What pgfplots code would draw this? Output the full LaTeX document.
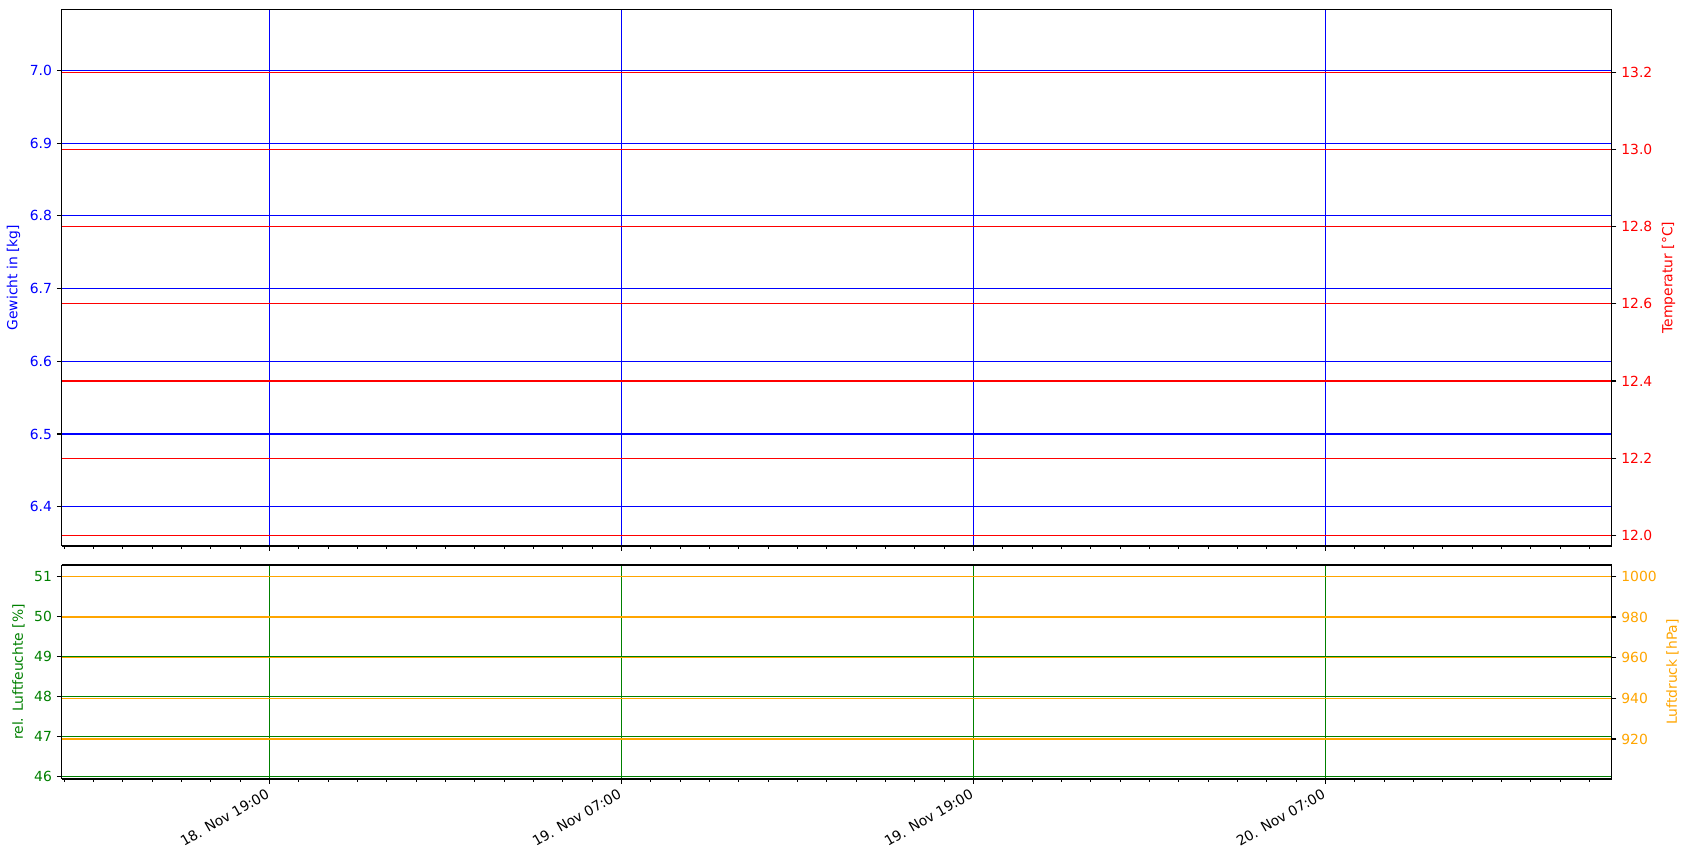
\documentclass[border=0pt]{standalone}
\usepackage{fontspec}
\setmainfont{DejaVu Sans}
\usepackage{pgfplots}
\pgfplotsset{compat=1.18}

% matplotlib default colours
\definecolor{mplgreen}{RGB}{0,128,0}
\definecolor{mplorange}{RGB}{255,165,0}

\pgfplotsset{
  base/.style={
    scale only axis,
    width=1116pt,
    xmin=-7.08, xmax=45.76,
    font=\fontsize{10}{12}\selectfont,
    /pgf/number format/assume math mode=true,
    /pgf/number format/set thousands separator={},
    tick align=outside,
    major tick length=3.5pt,
    minor tick length=2pt,
    every tick/.style={black},
    every major tick/.append style={line width=0.8pt},
    every minor tick/.append style={line width=0.6pt},
    axis line style={line width=0.8pt},
    major grid style={line width=0.8pt},
  },
  dec1/.style={yticklabel style={/pgf/number format/fixed, /pgf/number format/fixed zerofill, /pgf/number format/precision=1}},
}

\begin{document}
\begin{tikzpicture}
\path[use as bounding box] (0,0) rectangle (1213.2pt,619.2pt);

% ---------- upper panel: weight / temperature ----------
\begin{axis}[base, dec1,
  at={(44.4pt,226.1pt)}, anchor=south west,
  height=386.4pt,
  ymin=6.346, ymax=7.084,
  ytick={6.4,6.5,6.6,6.7,6.8,6.9,7.0},
  axis y line*=left,
  xtick={0,12,24,36}, xticklabels={},
  minor xtick={-7,...,45},
  xtick pos=bottom,
  grid=major, major grid style={blue},
  yticklabel style={text=blue},
  ylabel={Gewicht in [kg]}, ylabel style={text=blue},
]
\end{axis}
\begin{axis}[base, dec1,
  at={(44.4pt,226.1pt)}, anchor=south west,
  height=386.4pt,
  ymin=11.972, ymax=13.3645,
  ytick={12.0,12.2,12.4,12.6,12.8,13.0,13.2},
  axis y line*=right, axis x line=none,
  ymajorgrids, major grid style={red},
  yticklabel style={text=red},
  ylabel={Temperatur [°C]}, ylabel style={text=red},
]
\end{axis}

% ---------- lower panel: humidity / pressure ----------
\begin{axis}[base,
  at={(44.4pt,58.3pt)}, anchor=south west,
  height=154.1pt,
  ymin=45.94, ymax=51.28,
  ytick={46,47,48,49,50,51},
  axis y line*=left,
  xtick={0,12,24,36},
  xticklabels={18. Nov 19:00, 19. Nov 07:00, 19. Nov 19:00, 20. Nov 07:00},
  minor xtick={-7,...,45},
  xtick pos=bottom,
  xticklabel style={rotate=30, anchor=north east, xshift=-3pt, inner sep=1pt},
  grid=major, major grid style={mplgreen},
  yticklabel style={text=mplgreen},
  ylabel={rel. Luftfeuchte [\%]}, ylabel style={text=mplgreen},
]
\end{axis}
\begin{axis}[base,
  at={(44.4pt,58.3pt)}, anchor=south west,
  height=154.1pt,
  ymin=900.3, ymax=1005.6,
  ytick={920,940,960,980,1000},
  axis y line*=right, axis x line=none,
  ymajorgrids, major grid style={mplorange},
  yticklabel style={text=mplorange},
  ylabel={Luftdruck [hPa]}, ylabel style={text=mplorange},
]
\end{axis}
\end{tikzpicture}
\end{document}
